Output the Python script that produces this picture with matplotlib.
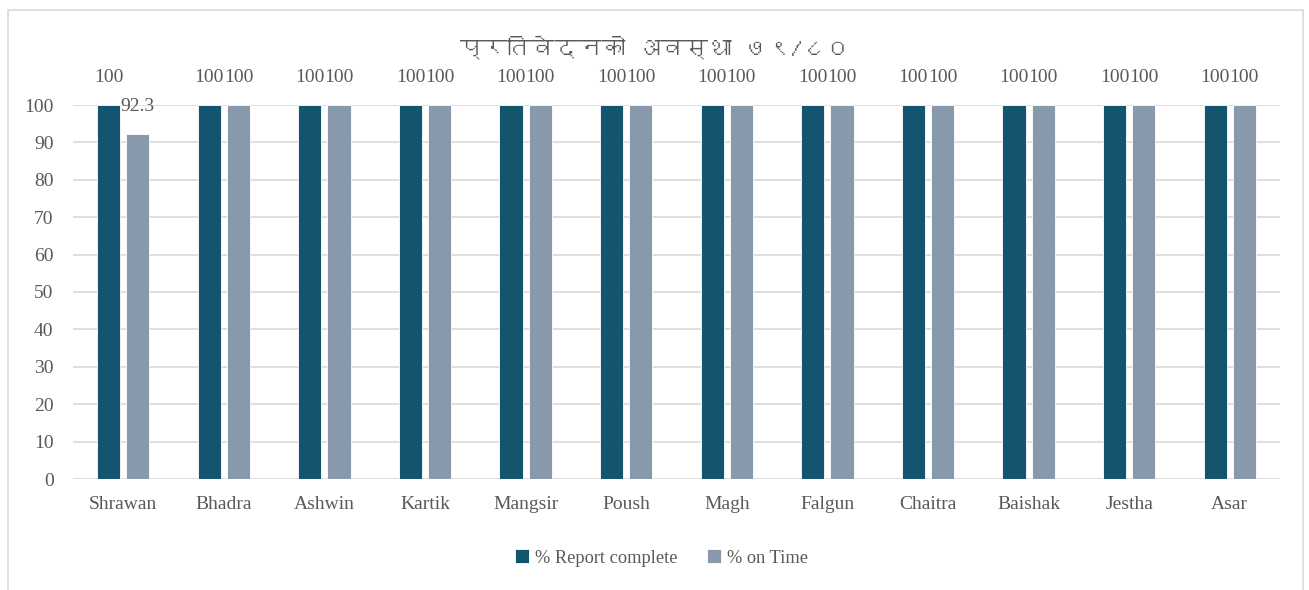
import matplotlib
matplotlib.use("Agg")
import matplotlib.pyplot as plt
from matplotlib import font_manager
from matplotlib.ft2font import FT2Font
from matplotlib.patches import Rectangle
import numpy as np

months = ["Shrawan", "Bhadra", "Ashwin", "Kartik", "Mangsir", "Poush",
          "Magh", "Falgun", "Chaitra", "Baishak", "Jestha", "Asar"]
report_complete = [100, 100, 100, 100, 100, 100, 100, 100, 100, 100, 100, 100]
on_time = [92.3, 100, 100, 100, 100, 100, 100, 100, 100, 100, 100, 100]
series_names = ["% Report complete", "% on Time"]
title = "प्रतिवेदनको अवस्था ७९/८०"

text_color = "#595959"
dark = "#13546F"
light = "#8799AA"


def find_devanagari_font():
    # look for any installed font that has Devanagari glyphs
    for f in font_manager.fontManager.ttflist:
        try:
            cmap = FT2Font(f.fname).get_charmap()
        except Exception:
            continue
        if 0x0915 in cmap and 0x092A in cmap:
            return f.name
    return None


deva = find_devanagari_font()
serif = ["Liberation Serif", "DejaVu Serif"]
plt.rcParams["font.family"] = serif
title_family = ([deva] if deva else []) + serif

fig = plt.figure(figsize=(13.09, 5.90), dpi=100)
ax = fig.add_axes([73 / 1309, 1 - 479 / 590, 1207 / 1309, 374 / 590])

x = np.arange(len(months))
w = 0.23
off = 0.145
b1 = ax.bar(x - off, report_complete, w, color=dark, edgecolor="white",
            linewidth=0.6, label=series_names[0], zorder=3)
b2 = ax.bar(x + off, on_time, w, color=light, edgecolor="white",
            linewidth=0.6, label=series_names[1], zorder=3)

for bars in (b1, b2):
    for rect in bars:
        h = rect.get_height()
        ax.annotate(f"{h:g}", (rect.get_x() + rect.get_width() / 2, h),
                    xytext=(0, 20), textcoords="offset points",
                    ha="center", va="center", fontsize=14,
                    color=text_color, annotation_clip=False)

ax.set_xlim(-0.5, len(months) - 0.5)
ax.set_ylim(0, 100)
ax.set_yticks(range(0, 101, 10))
ax.set_xticks(x)
ax.set_xticklabels(months)
ax.tick_params(length=0, labelsize=14, labelcolor=text_color)
ax.tick_params(axis="x", pad=12)
ax.tick_params(axis="y", pad=14)
ax.grid(axis="y", color="#D9D9D9", linewidth=1.2, zorder=0)
ax.set_axisbelow(True)
for s in ax.spines.values():
    s.set_visible(False)

fig.text(0.5, 1 - 47 / 590, title, ha="center", va="center", fontsize=17,
         color=text_color, family=title_family)

fig.legend(loc="center", bbox_to_anchor=(0.5 + 7 / 1309, 1 - 558 / 590), ncol=2,
           frameon=False, fontsize=13.2, handlelength=0.75, handleheight=0.75,
           handletextpad=0.35, columnspacing=1.6, labelcolor=text_color)

# chart border
fig.patches.append(Rectangle((8 / 1309, -0.05), 1295 / 1309, 1.05 - 10 / 590,
                             transform=fig.transFigure, fill=False,
                             edgecolor="#D9D9D9", linewidth=1.2))

fig.savefig("out.png", dpi=100)
